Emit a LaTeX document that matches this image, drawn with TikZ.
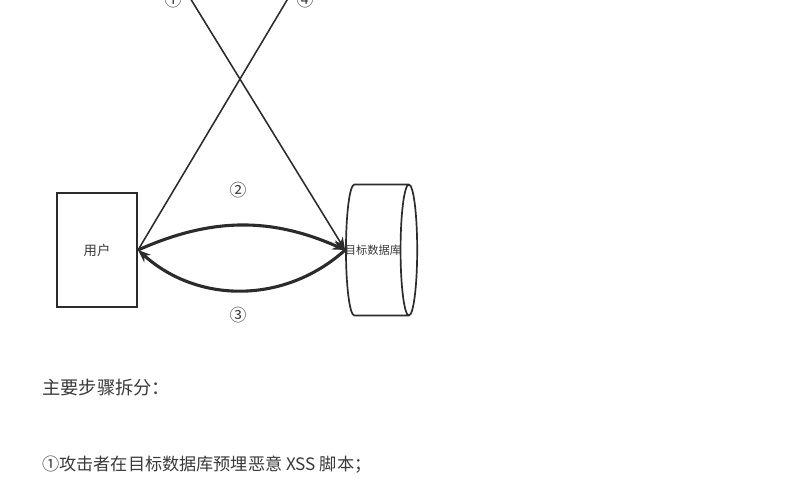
\documentclass[tikz,border=0pt]{standalone}
\usepackage{fontspec}
\newfontfamily\cjk{Noto Sans CJK SC}
\usetikzlibrary{shapes.geometric,arrows.meta}
\definecolor{linegray}{HTML}{2B2B2B}
\definecolor{textgray}{HTML}{3A3A3A}

\begin{document}
\begin{tikzpicture}[x=0.025cm,y=-0.025cm,
						every node/.style={font=\cjk, text=textgray},
						userbox/.style={draw=linegray, line width=1.5pt, minimum width=2cm, minimum height=2.85cm, inner sep=0pt, font=\cjk\fontsize{9.5}{11}\selectfont},
						dbnode/.style={cylinder, draw=linegray, line width=1.2pt, minimum width=3.27cm, minimum height=1.78cm, aspect=1.6, inner sep=0pt, font=\cjk\fontsize{8}{9}\selectfont},
						num/.style={inner sep=0pt, font=\cjk\fontsize{12}{13}\selectfont},
						flow/.style={draw=linegray, line width=1.1pt, -{Stealth[length=9pt,width=7pt]}},
						bold/.style={flow, line width=2.2pt},
						para/.style={anchor=west, inner sep=0pt, font=\cjk\fontsize{12.5}{15}\selectfont},
					]
					\clip (0,0) rectangle (800,500);
					\fill[white] (0,0) rectangle (800,500);

					\node[userbox] (user) at (97,250) {用户};
					\node[dbnode] (db) at (377,250) {\phantom{目标数据}\hspace{4pt}};
					\node[inner sep=0pt, font=\cjk\fontsize{8}{9}\selectfont] (dblabel) at (373,250) {目标数据库};

					\coordinate (attL) at (179,-20);
					\coordinate (attR) at (299,-20);
					\node[num] (n1) at (173,0) {①};
					\node[num] (n4) at (305,0) {④};
					\node[num] (n2) at (238,190) {②};
					\node[num] (n3) at (238,315) {③};

					\draw[flow] (attL) -- (db.west);
					\draw[flow] (user.east) -- (attR);
					%
					\draw[bold] (user.east) to[bend left=24] (db.west);
					\draw[bold] (db.west) to[bend left=42] (user.east);

					\node[para, font=\cjk\fontsize{13}{15}\selectfont] (title) at (42,388) {主要步骤拆分：};
					\node[para, font=\cjk\fontsize{12.2}{15}\selectfont] (step1) at (42,465) {①攻击者在目标数据库预埋恶意 XSS 脚本；};
				\end{tikzpicture}
\end{document}
